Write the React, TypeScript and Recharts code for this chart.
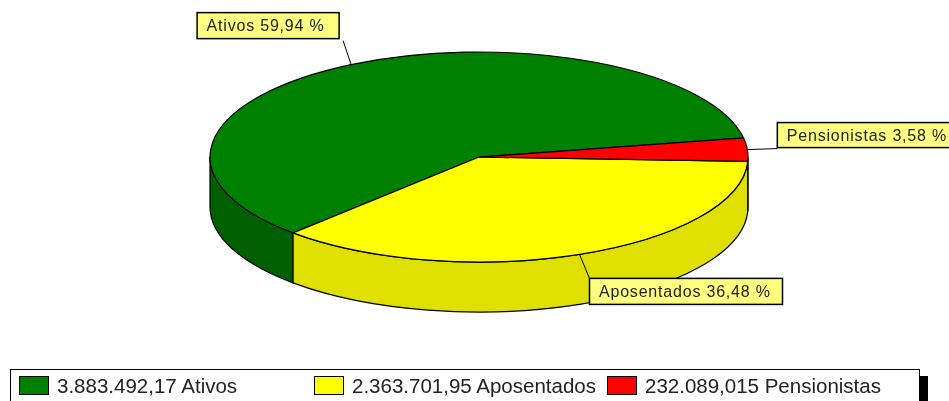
import { PieChart, Pie, Legend } from 'recharts';

const categories = ['Ativos', 'Aposentados', 'Pensionistas'];
const values = [3883492.17, 2363701.95, 232089.015];
const valueLabels = ['3.883.492,17', '2.363.701,95', '232.089,015'];
const topColors = ['#008000', '#ffff00', '#ff0000'];
const wallColors = ['#006000', '#e0e000', '#e00000'];

// where each callout box sits relative to the point on the rim
const callouts = [
  { lineX: -8, lineY: -24, boxX: -154, boxY: -52, boxW: 142, boxH: 26 },
  { lineX: 10, lineY: 24, boxX: 10, boxY: 24, boxW: 193, boxH: 26 },
  { lineX: 30, lineY: -1, boxX: 30, boxY: -27, boxW: 175, boxH: 25 },
];
const legendX = [18, 313, 606];

const SQUASH = 105 / 269;
const DEPTH = 50;
const RAD = Math.PI / 180;

const chartData = categories.map((name, i) => ({
  name,
  value: values[i],
  fill: topColors[i],
  wall: wallColors[i],
}));

function rim(cx: number, cy: number, r: number, deg: number) {
  return {
    x: cx + r * Math.cos(deg * RAD),
    y: cy - r * SQUASH * Math.sin(deg * RAD),
  };
}

// top of the slice is an ellipse sector, the side wall only shows on the front half
function Slice3D(props: any) {
  const { cx, cy, outerRadius: r, startAngle, endAngle, fill, wall } = props;
  const ry = r * SQUASH;
  const a = rim(cx, cy, r, startAngle);
  const b = rim(cx, cy, r, endAngle);
  const large = endAngle - startAngle > 180 ? 1 : 0;
  const top = `M${cx},${cy} L${a.x},${a.y} A${r},${ry} 0 ${large} 0 ${b.x},${b.y} Z`;

  const walls: string[] = [];
  [-360, 0, 360].forEach((turn) => {
    const from = Math.max(startAngle, 180 + turn);
    const to = Math.min(endAngle, 360 + turn);
    if (to <= from) return;
    const p = rim(cx, cy, r, from);
    const q = rim(cx, cy, r, to);
    walls.push(
      `M${p.x},${p.y} A${r},${ry} 0 0 0 ${q.x},${q.y} L${q.x},${q.y + DEPTH} A${r},${ry} 0 0 1 ${p.x},${p.y + DEPTH} Z`,
    );
  });

  return (
    <g>
      {walls.map((d) => (
        <path key={d} d={d} fill={wall} stroke="#000" strokeWidth={1.2} />
      ))}
      <path d={top} fill={fill} stroke="#000" strokeWidth={1.2} />
    </g>
  );
}

function Callout(props: any) {
  const { cx, cy, outerRadius, midAngle, percent, name, index } = props;
  const c = callouts[index];
  const p = rim(cx, cy, outerRadius, midAngle);
  return (
    <g>
      <line
        x1={p.x}
        y1={p.y}
        x2={p.x + c.lineX}
        y2={p.y + c.lineY}
        stroke="#000"
        strokeWidth={1}
      />
      <rect
        x={p.x + c.boxX}
        y={p.y + c.boxY}
        width={c.boxW}
        height={c.boxH}
        fill="#ffff80"
        stroke="#000"
        strokeWidth={1.5}
      />
      <text
        x={p.x + c.boxX + 9.5}
        y={p.y + c.boxY + c.boxH / 2 + 5.5}
        fontFamily="Liberation Sans"
        fontSize={16}
        letterSpacing={0.8}
        fill="#222"
      >
        {`${name} ${(percent * 100).toFixed(2).replace('.', ',')} %`}
      </text>
    </g>
  );
}

function LegendBox({ payload }: any) {
  return (
    <div
      style={{
        position: 'relative',
        width: 910,
        height: 40,
        boxSizing: 'border-box',
        background: '#fff',
        border: '1.5px solid #000',
        boxShadow: '8px 7px 0 #000',
        fontFamily: 'Liberation Sans',
        fontSize: 20.5,
        color: '#222',
      }}
    >
      {(payload ?? []).map((item: any, i: number) => (
        <div
          key={item.value}
          style={{ position: 'absolute', left: legendX[i] - 10, top: 4, whiteSpace: 'nowrap' }}
        >
          <span
            style={{
              display: 'inline-block',
              width: 28,
              height: 17,
              background: item.color,
              border: '1.5px solid #000',
              marginRight: 8,
              verticalAlign: -2,
            }}
          />
          {`${valueLabels[i]} ${item.value}`}
        </div>
      ))}
    </div>
  );
}

export default function App() {
  return (
    <div
      style={{
        position: 'absolute',
        left: 0,
        top: 0,
        width: 949,
        height: 401,
        overflow: 'hidden',
        filter: 'blur(0.4px)',
      }}
    >
      <PieChart width={949} height={401} margin={{ top: 0, right: 0, bottom: 0, left: 0 }}>
        <Pie
          data={chartData}
          dataKey="value"
          nameKey="name"
          cx={479}
          cy={157}
          outerRadius={269}
          startAngle={10.5}
          endAngle={370.5}
          stroke="#000"
          shape={Slice3D}
          label={Callout}
          labelLine={false}
          isAnimationActive={false}
        />
        <Legend
          content={<LegendBox />}
          itemSorter={null}
          wrapperStyle={{ position: 'absolute', left: 10, top: 369, width: 910, bottom: 'auto' }}
        />
      </PieChart>
    </div>
  );
}
